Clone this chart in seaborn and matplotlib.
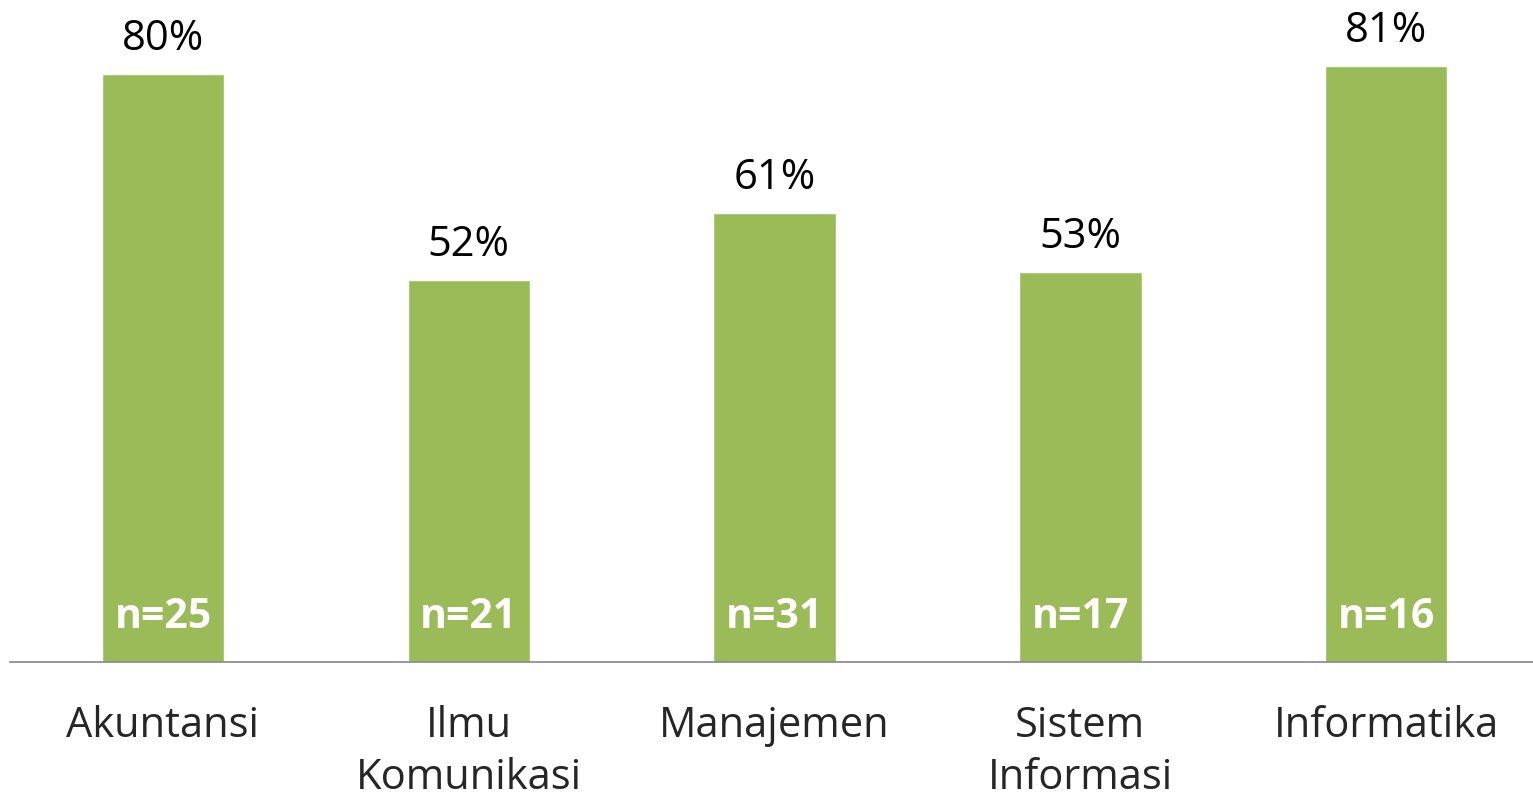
import matplotlib
matplotlib.use("Agg")
import pandas as pd
import seaborn as sns
import matplotlib.pyplot as plt

# chart data
categories = ["Akuntansi", "Ilmu\nKomunikasi", "Manajemen", "Sistem\nInformasi", "Informatika"]
percent = [80, 52, 61, 53, 81]
n_counts = [25, 21, 31, 17, 16]

df = pd.DataFrame({"jurusan": categories, "persen": percent, "n": n_counts})

sns.set_style("white")
plt.rcParams['font.family'] = ['Open Sans', 'DejaVu Sans']

fig = plt.figure(figsize=(15.33, 8.01), dpi=100)
ax = fig.add_axes([10 / 1533, 139 / 801, 1523 / 1533, 662 / 801])

sns.barplot(data=df, x="jurusan", y="persen", color="#9BBB59", width=0.4,
            saturation=1, ax=ax)

ax.set_ylim(0, 90)
ax.set_xlim(-0.5, 4.48)

# value labels on top and n inside the bars
for i, (p, n) in enumerate(zip(percent, n_counts)):
    ax.text(i, p + 1.9, f"{p}%", ha="center", va="bottom", fontsize=30, color="black")
    ax.text(i, 6, f"n={n}", ha="center", va="center", fontsize=29.5,
            fontweight="bold", color="white")

ax.set_xlabel("")
ax.set_ylabel("")
ax.set_yticks([])
ax.tick_params(axis="x", length=0, labelsize=30, pad=31)
for lbl in ax.get_xticklabels():
    lbl.set_linespacing(1.32)
    lbl.set_va("top")

for side in ["top", "right", "left"]:
    ax.spines[side].set_visible(False)
ax.spines["bottom"].set_color("#868686")
ax.spines["bottom"].set_linewidth(1.2)

fig.savefig("out.png", dpi=100)
